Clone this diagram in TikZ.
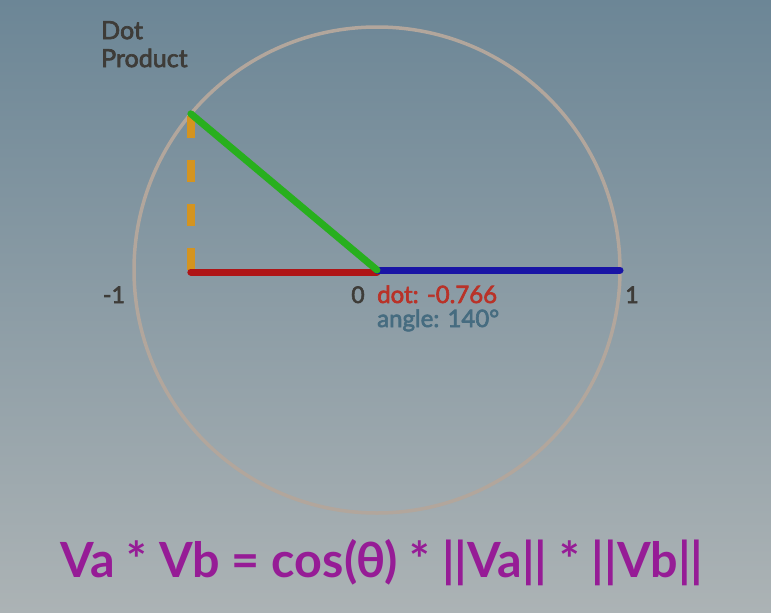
\documentclass[tikz,border=0pt]{standalone}
\usepackage{fontspec}
\setmainfont{Lato}
\newfontfamily\latomid[FakeBold=2.6]{Lato}
\usepackage{tikz}
\usetikzlibrary{positioning, calc}
\definecolor{bgtop}{RGB}{108, 134, 150}
\definecolor{bgbottom}{RGB}{172, 179, 181}
\definecolor{rimgray}{RGB}{178, 166, 156}
\definecolor{dotgreen}{RGB}{40, 175, 30}
\definecolor{dotblue}{RGB}{25, 20, 165}
\definecolor{dotred}{RGB}{175, 20, 22}
\definecolor{dotorange}{RGB}{212, 148, 32}
\definecolor{labelgray}{RGB}{62, 60, 56}
\definecolor{valred}{RGB}{185, 50, 40}
\definecolor{valblue}{RGB}{70, 108, 128}
\definecolor{formulapurple}{RGB}{150, 28, 150}

\begin{document}
\begin{tikzpicture}[
    x=1pt, y=-1pt,
    vec/.style={line width=7pt, line cap=round},
    axislabel/.style={font=\fontsize{23}{26}\selectfont\latomid, text=labelgray, inner sep=0pt, anchor=base},
    value/.style={font=\fontsize{24}{26}\selectfont\latomid, inner sep=0pt, anchor=base west},
]

% Background
\shade[top color=bgtop, bottom color=bgbottom] (0,0) rectangle (771,613);
\useasboundingbox (0,0) rectangle (771,613);

% Points on the unit circle
\coordinate (O) at (377,270);
\coordinate (B) at (620,270);
\coordinate (A) at ($(O)+(220:243)$);
\coordinate (P) at (A |- O);

% Circle
\draw[rimgray, line width=3.5pt] (O) circle[radius=243];

% Vectors
\draw[dotorange, line width=8pt, dash pattern=on 22pt off 22pt] (P) -- (A);
\draw[vec, dotred] ($(P)+(0,2)$) -- ($(O)+(0,2)$);
\draw[vec, dotblue] (O) -- (B);
\draw[vec, dotgreen] (O) -- (A);

% Labels
\node[font=\fontsize{25}{28}\selectfont\latomid, text=labelgray, inner sep=0pt, anchor=north west, align=left] (title) at (101,21) {Dot\\Product};
\node[axislabel] (minusone) at (114,303) {-1};
\node[axislabel] (zero) at (358,303) {0};
\node[axislabel] (one) at (632,303) {1};
\node[value, text=valred] (dotval) at (377,303) {dot: -0.766};
\node[value, text=valblue] (angleval) at (377,327) {angle: 140°};

% Formula
\node[font=\fontsize{48.5}{52}\selectfont\bfseries, text=formulapurple, inner sep=0pt, anchor=base west] (formula) at (60,577) {Va * Vb = cos(θ) * ||Va|| * ||Vb||};

\end{tikzpicture}
\end{document}
